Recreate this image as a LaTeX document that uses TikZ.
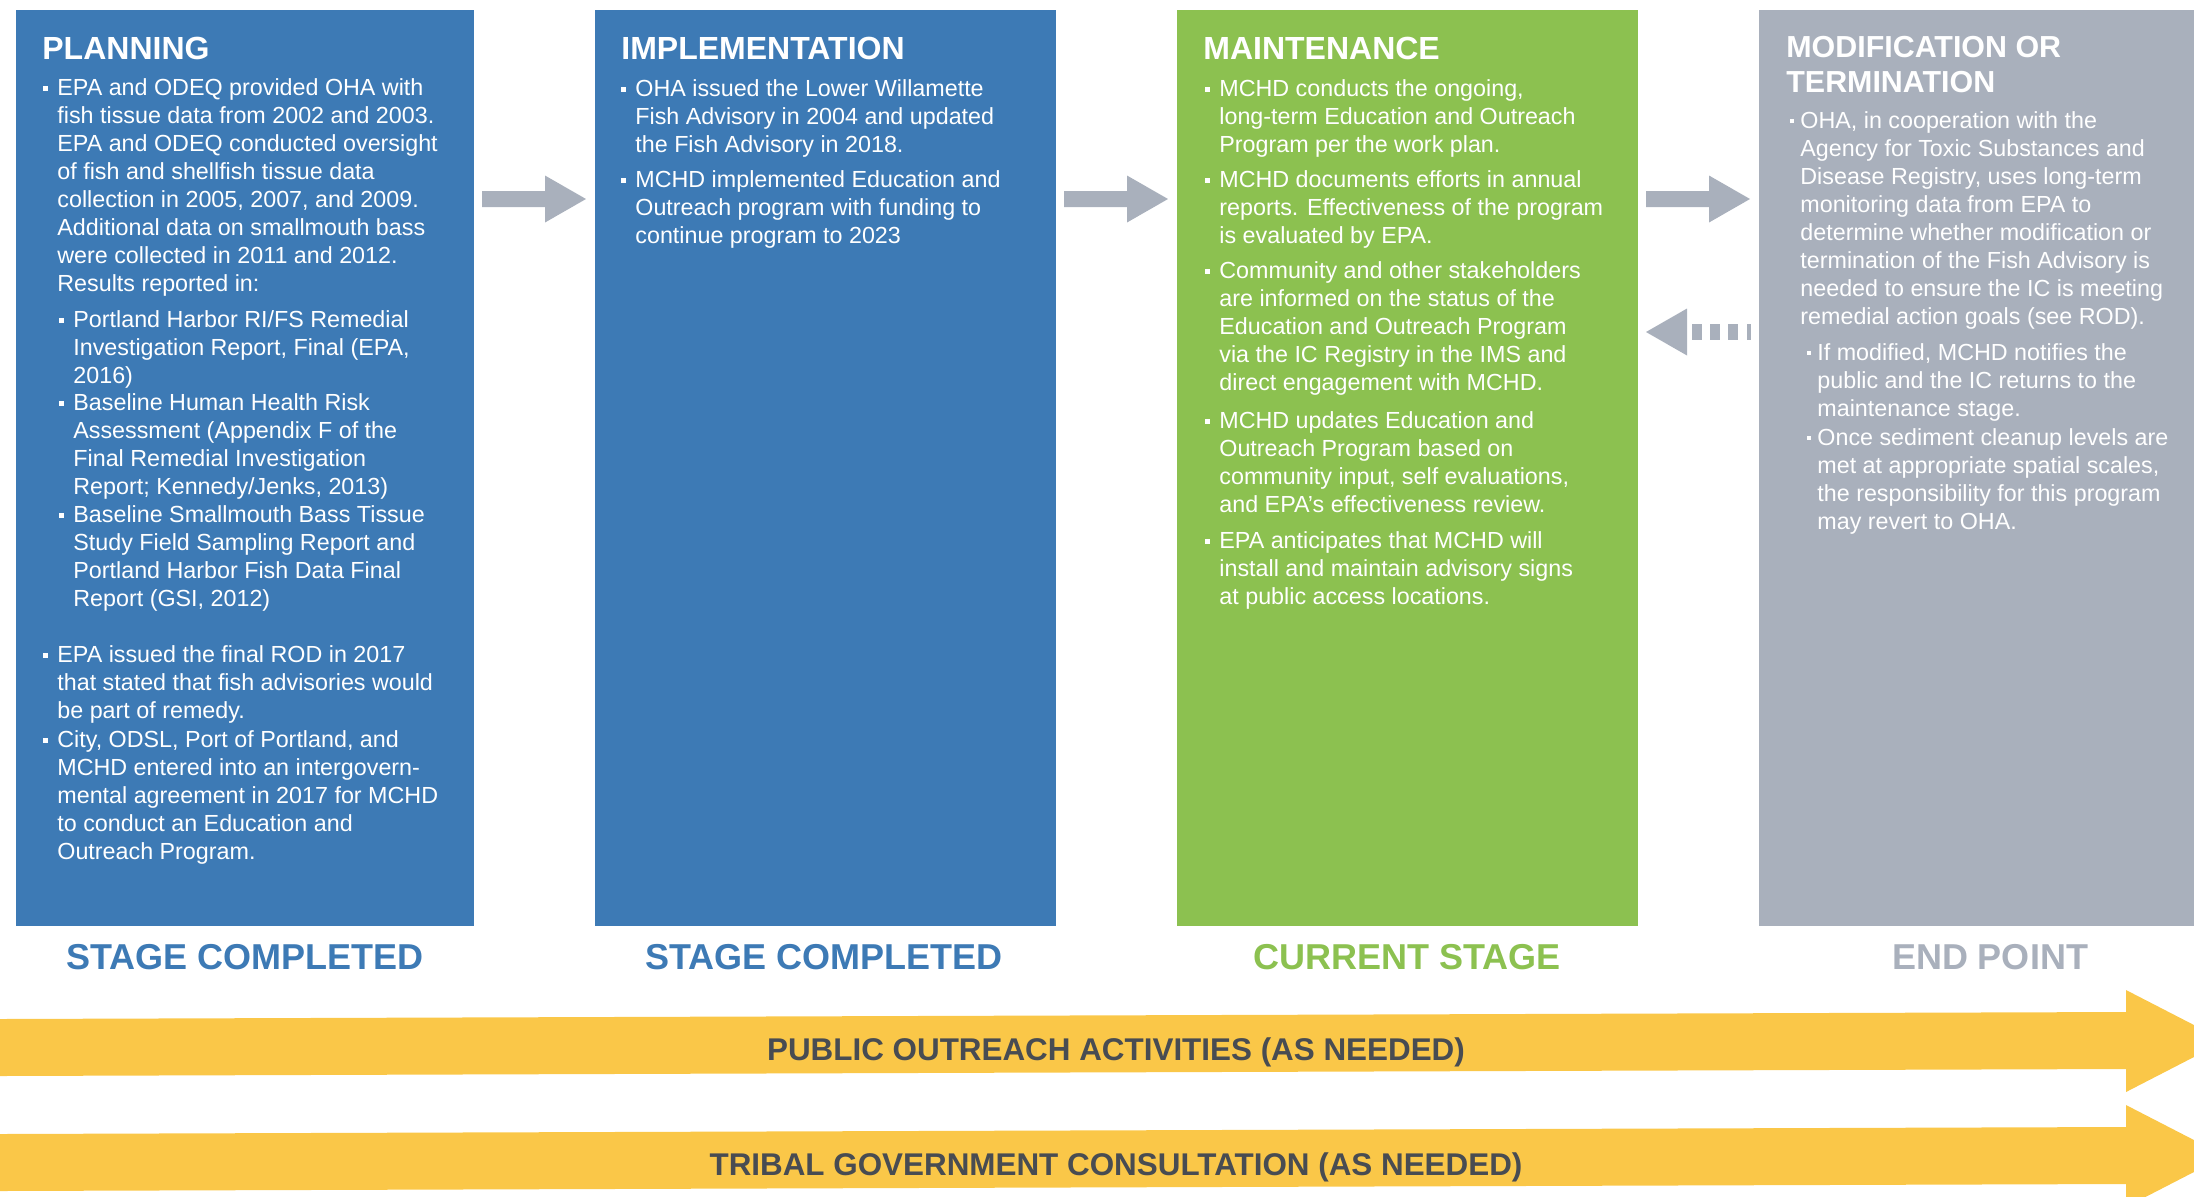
\documentclass[tikz,border=0pt]{standalone}
\usepackage{fontspec}
\setmainfont{Liberation Sans}
\usetikzlibrary{calc}

\definecolor{boxblue}{RGB}{61,122,181}
\definecolor{boxgreen}{RGB}{140,193,80}
\definecolor{boxgray}{RGB}{169,176,188}
\definecolor{flowgray}{RGB}{169,176,188}
\definecolor{bandyellow}{RGB}{250,199,72}
\definecolor{bandtext}{RGB}{72,76,82}

% stacked lines, baseline at the first line
\newcommand\stack[1]{\begin{tabular}[t]{@{}l@{}}#1\end{tabular}}

\begin{document}
\begin{tikzpicture}[x=0.5pt,y=-0.5pt,
  stagebox/.style={anchor=north west, inner sep=0pt, outer sep=0pt, draw=none},
  heading/.style={anchor=base west, inner sep=0pt, text=white,
    font=\fontsize{16}{17.5}\selectfont\bfseries},
  bodytext/.style={anchor=base west, inner sep=0pt, text=white,
    font=\fontsize{11.65}{14.05}\selectfont},
  stagelabel/.style={anchor=base, inner sep=0pt,
    font=\fontsize{18}{20}\selectfont\bfseries},
  bandlabel/.style={anchor=base, inner sep=0pt, text=bandtext,
    font=\fontsize{15.7}{18}\selectfont\bfseries},
  flow/.style={fill=flowgray, draw=none}]

\useasboundingbox (0,0) rectangle (2194,1196);

% ---- stage boxes ----
\node[stagebox, fill=boxblue,  minimum width=229pt,   minimum height=458pt] (plan)  at (16,10)   {};
\node[stagebox, fill=boxblue,  minimum width=230.5pt, minimum height=458pt] (impl)  at (595,10)  {};
\node[stagebox, fill=boxgreen, minimum width=230.5pt, minimum height=458pt] (maint) at (1177,10) {};
\node[stagebox, fill=boxgray,  minimum width=217.5pt, minimum height=458pt] (modif) at (1759,10) {};

% bullet marks
\newcommand\sqbullet[1]{\fill[white] ($(#1.base west)+(-14,-9)$) rectangle ++(5,5);}
\newcommand\smbullet[1]{\fill[white] ($(#1.base west)+(-10,-9)$) rectangle ++(4,4);}

% ---- PLANNING ----
\node[heading] (hplan) at (42,59) {PLANNING};
\node[bodytext] (p1) at (57,95) {\stack{EPA and ODEQ provided OHA with\\
fish tissue data from 2002 and 2003.\\
EPA and ODEQ conducted oversight\\
of fish and shellfish tissue data\\
collection in 2005, 2007, and 2009.\\
Additional data on smallmouth bass\\
were collected in 2011 and 2012.\\
Results reported in:}};
\node[bodytext] (p1a) at (73,327) {\stack{Portland Harbor RI/FS Remedial\\
Investigation Report, Final (EPA,\\
2016)}};
\node[bodytext] (p1b) at (73,410) {\stack{Baseline Human Health Risk\\
Assessment (Appendix F of the\\
Final Remedial Investigation\\
Report; Kennedy/Jenks, 2013)}};
\node[bodytext] (p1c) at (73,522) {\stack{Baseline Smallmouth Bass Tissue\\
Study Field Sampling Report and\\
Portland Harbor Fish Data Final\\
Report (GSI, 2012)}};
\node[bodytext] (p2) at (57,662) {\stack{EPA issued the final ROD in 2017\\
that stated that fish advisories would\\
be part of remedy.}};
\node[bodytext] (p3) at (57,747) {\stack{City, ODSL, Port of Portland, and\\
MCHD entered into an intergovern-\\
mental agreement in 2017 for MCHD\\
to conduct an Education and\\
Outreach Program.}};
\sqbullet{p1}\sqbullet{p1a}\sqbullet{p1b}\sqbullet{p1c}\sqbullet{p2}\sqbullet{p3}

% ---- IMPLEMENTATION ----
\node[heading] (himpl) at (621,59) {IMPLEMENTATION};
\node[bodytext] (i1) at (635,96) {\stack{OHA issued the Lower Willamette\\
Fish Advisory in 2004 and updated\\
the Fish Advisory in 2018.}};
\node[bodytext] (i2) at (635,187) {\stack{MCHD implemented Education and\\
Outreach program with funding to\\
continue program to 2023}};
\sqbullet{i1}\sqbullet{i2}

% ---- MAINTENANCE ----
\node[heading] (hmaint) at (1203,59) {MAINTENANCE};
\node[bodytext] (m1) at (1219,96) {\stack{MCHD conducts the ongoing,\\
long-term Education and Outreach\\
Program per the work plan.}};
\node[bodytext] (m2) at (1219,187) {\stack{MCHD documents efforts in annual\\
reports. Effectiveness of the program\\
is evaluated by EPA.}};
\node[bodytext] (m3) at (1219,278) {\stack{Community and other stakeholders\\
are informed on the status of the\\
Education and Outreach Program\\
via the IC Registry in the IMS and\\
direct engagement with MCHD.}};
\node[bodytext] (m4) at (1219,428) {\stack{MCHD updates Education and\\
Outreach Program based on\\
community input, self evaluations,\\
and EPA’s effectiveness review.}};
\node[bodytext] (m5) at (1219,548) {\stack{EPA anticipates that MCHD will\\
install and maintain advisory signs\\
at public access locations.}};
\sqbullet{m1}\sqbullet{m2}\sqbullet{m3}\sqbullet{m4}\sqbullet{m5}

% ---- MODIFICATION OR TERMINATION ----
\node[heading, font=\fontsize{15.2}{17.5}\selectfont\bfseries] (hmodif) at (1786,57) {\stack{MODIFICATION OR\\ TERMINATION}};
\node[bodytext] (t1) at (1800,128) {\stack{OHA, in cooperation with the\\
Agency for Toxic Substances and\\
Disease Registry, uses long-term\\
monitoring data from EPA to\\
determine whether modification or\\
termination of the Fish Advisory is\\
needed to ensure the IC is meeting\\
remedial action goals (see ROD).}};
\node[bodytext] (t1a) at (1817,360) {\stack{If modified, MCHD notifies the\\
public and the IC returns to the\\
maintenance stage.}};
\node[bodytext] (t1b) at (1817,445) {\stack{Once sediment cleanup levels are\\
met at appropriate spatial scales,\\
the responsibility for this program\\
may revert to OHA.}};
\smbullet{t1}\smbullet{t1a}\smbullet{t1b}

% ---- forward arrows between stages ----
\foreach \from/\nm in {plan/fa, impl/fb, maint/fc}{
  \coordinate (\nm) at ($(\from.north east)+(8,189)$);
  \fill[flow] (\nm) ++(0,-8) -- ++(63,0) -- ++(0,-15.5) -- ++(41,23.5)
    -- ++(-41,23.5) -- ++(0,-15.5) -- ++(-63,0) -- cycle;
}

% ---- dashed return arrow to maintenance ----
\coordinate (back) at ($(maint.north east)+(8,322)$);
\fill[flow] (back) -- ++(41,-23.5) -- ++(0,47) -- cycle;
\foreach \dx/\w in {46/10, 64/10, 82/10, 101/4}{
  \fill[flow] ($(back)+(\dx,-8)$) rectangle ++(\w,16);
}

% ---- stage status labels ----
\node[stagelabel, text=boxblue]  (lplan)  at (245,969)  {STAGE COMPLETED};
\node[stagelabel, text=boxblue]  (limpl)  at (824,969)  {STAGE COMPLETED};
\node[stagelabel, text=boxgreen] (lmaint) at (1407,969) {CURRENT STAGE};
\node[stagelabel, text=boxgray]  (lmodif) at (1990,969) {END POINT};

% ---- ongoing activity bands ----
\begin{scope}
  \clip (0,0) rectangle (2194,1196);
  \foreach \dy in {0,115}{
    \fill[bandyellow] (0,1019+\dy) -- (2126,1012+\dy) -- (2126,990+\dy)
      -- (2225,1041+\dy) -- (2126,1092+\dy) -- (2126,1069+\dy)
      -- (0,1076+\dy) -- cycle;
  }
\end{scope}
\node[bandlabel] (bpub) at (1116,1060) {PUBLIC OUTREACH ACTIVITIES (AS NEEDED)};
\node[bandlabel] (btri) at (1116,1175) {TRIBAL GOVERNMENT CONSULTATION (AS NEEDED)};

\end{tikzpicture}
\end{document}
